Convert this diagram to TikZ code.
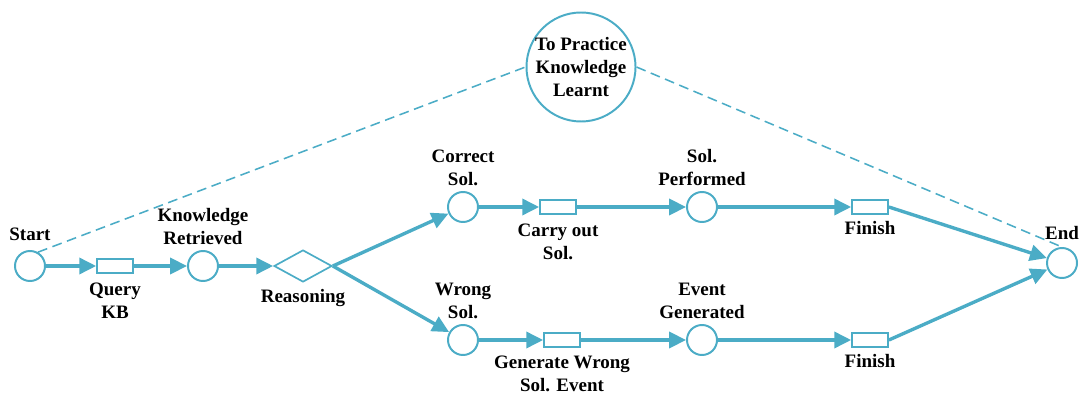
\documentclass[tikz,border=0pt]{standalone}
\usepackage{fontspec}
\setmainfont{Liberation Serif}
\usetikzlibrary{shapes.geometric}
\usetikzlibrary{positioning}
\usetikzlibrary{arrows.meta}
\usepackage{xcolor}
\definecolor{petri}{HTML}{4BACC6}

\tikzset{
  place/.style={draw=petri, circle, line width=1.4pt, fill=white, minimum size=0.75cm, inner sep=0pt},
  trans/.style={draw=petri, rectangle, line width=1.2pt, fill=white, minimum width=0.9cm, minimum height=0.35cm, inner sep=0pt},
  flow/.style={-{Triangle[length=0.42cm, width=0.4cm]}, line width=2.4pt, draw=petri},
  link/.style={dashed, dash pattern=on 7pt off 4pt, line width=1.1pt, draw=petri},
  txt/.style={font=\fontsize{13.5}{16.3}\selectfont\bfseries},
  every label/.style={align=center, txt, label distance=0pt}
}

\begin{document}
\begin{tikzpicture}[x=0.025cm, y=-0.025cm]
            \useasboundingbox (0,0) rectangle (1083,399);
            \node[place, label={[label distance=3pt]above:Start}] (start) at (30,266) {};
            \node[trans, label={[label distance=3pt]below:{Query\\KB}}] (query) at (115,266) {};
            \node[place, label=above:{Knowledge\\Retrieved}] (retrieved) at (203,266) {};
            \node[draw=petri, diamond, line width=1.2pt, minimum width=1.45cm, minimum height=0.8cm, inner sep=0pt, label={[label distance=1pt]below:Reasoning}] (reason) at (303,266) {};
            \node[place, label=above:{Correct\\Sol.}] (correct) at (463,207) {};
            \node[trans, label={[label distance=3pt]below:{Carry out\\Sol.}}] (carry) at (558,207) {};
            \node[place, label=above:{Sol.\\Performed}] (performed) at (702,207) {};
            \node[trans, label={[label distance=1pt]below:Finish}] (finishA) at (870,207) {};
            \node[place, label=above:{Wrong\\Sol.}] (wrong) at (463,340) {};
            \node[trans, label={[label distance=2pt]below:{Generate Wrong\\Sol. Event}}] (generate) at (562,340) {};
            \node[place, label=above:{Event\\Generated}] (generated) at (702,340) {};
            \node[trans, label={[label distance=1pt]below:Finish}] (finishB) at (870,340) {};
            \node[place, label={[label distance=2pt]above:End}] (end) at (1062,263) {};
            \node[draw=petri, circle, line width=1.4pt, minimum size=2.6cm, inner sep=0pt, align=center, txt] (learn) at (581,67) {To Practice\\Knowledge\\Learnt};

            \draw[link] (start.60) -- (learn.west);
            \draw[link] (learn.east) -- (end.north);

            \draw[flow] (start) -- (query);
            \draw[flow] (query) -- (retrieved);
            \draw[flow] (retrieved) -- (reason);
            \draw[flow] (reason.east) -- (correct);
            \draw[flow] (reason.east) -- (wrong);
            \draw[flow] (correct) -- (carry);
            \draw[flow] (carry) -- (performed);
            \draw[flow] (performed) -- (finishA);
            \draw[flow] (wrong) -- (generate);
            \draw[flow] (generate) -- (generated);
            \draw[flow] (generated) -- (finishB);
            \draw[flow] (finishA.east) -- (end);
            \draw[flow] (finishB.east) -- (end);
        \end{tikzpicture}
\end{document}
